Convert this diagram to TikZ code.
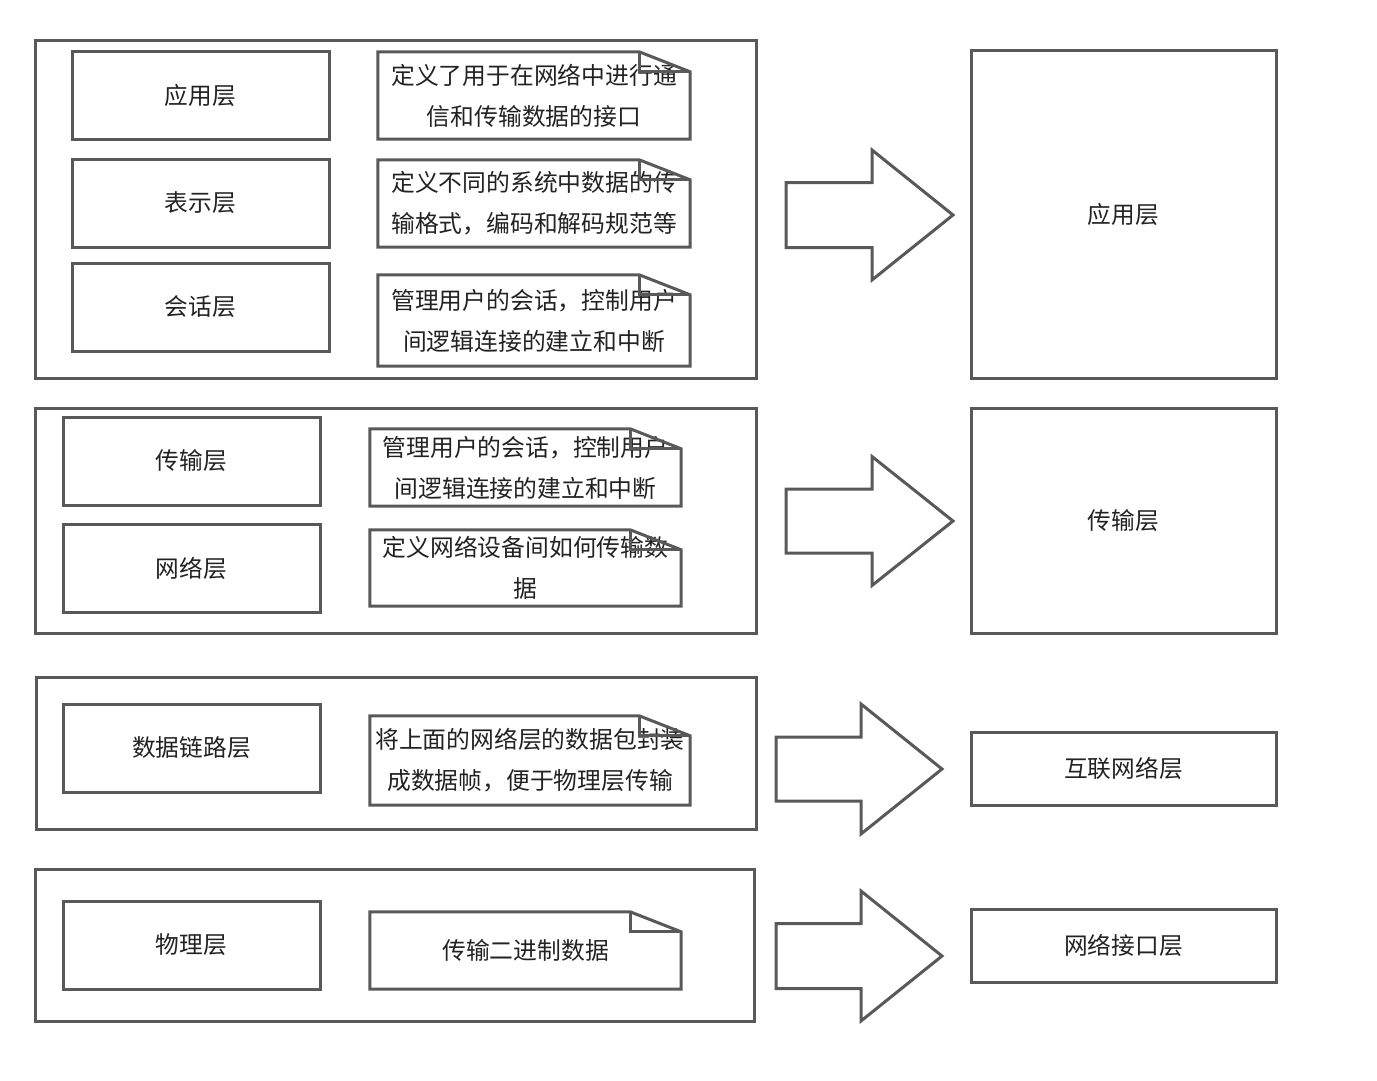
\documentclass[tikz,border=0pt]{standalone}
\usepackage{fontspec}
\newfontfamily\cjk{Noto Sans CJK SC}
\definecolor{linec}{HTML}{595959}
\definecolor{txtc}{HTML}{222222}
\tikzset{
  ln/.style={draw=linec, line width=3pt},
  box/.style={ln, inner sep=0pt, align=center, text=txtc, font=\cjk\fontsize{23.7}{41}\selectfont},
  notetext/.style={inner sep=0pt, align=center, text=txtc, font=\cjk\fontsize{23.8}{41}\selectfont},
  bigarrow/.style={ln, line join=miter},
}
\newcommand{\mybox}[6]{\node[box, minimum width={(#4-#2)*1pt}, minimum height={(#5-#3)*1pt}] (#1) at ({(#2+#4)/2},{(#3+#5)/2}) {#6};}
\newcommand{\mynote}[6]{%
  \node[notetext, minimum width={(#4-#2)*1pt}, minimum height={(#5-#3)*1pt}] (#1) at ({(#2+#4)/2},{(#3+#5)/2}) {#6};
  \draw[ln] (#1.north west) -- ([xshift=-51pt]#1.north east) -- ([yshift=-20pt]#1.north east) -- (#1.south east) -- (#1.south west) -- cycle;
  \draw[ln] ([xshift=-51pt]#1.north east) -- ([xshift=-51pt,yshift=-20pt]#1.north east) -- ([yshift=-20pt]#1.north east);}
\newcommand{\myarrow}[6]{%
  \draw[bigarrow] (#1,{#4-#5}) -- (#2,{#4-#5}) -- (#2,{#4-#6}) -- (#3,#4) -- (#2,{#4+#6}) -- (#2,{#4+#5}) -- (#1,{#4+#5}) -- cycle;}
\begin{document}
\begin{tikzpicture}[x=1pt,y=-1pt]
\useasboundingbox (0,0) rectangle (1377,1080);
% group outlines
\mybox{g1}{35}{40}{756}{378}{}
\mybox{g2}{35}{408}{756}{633}{}
\mybox{g3}{36}{677}{756}{829}{}
\mybox{g4}{35}{869}{754}{1021}{}
% left boxes
\mybox{app}{72}{51}{329}{139}{应用层}
\mybox{pres}{72}{159}{329}{247}{表示层}
\mybox{sess}{72}{263}{329}{351}{会话层}
\mybox{trans}{63}{417}{320}{505}{传输层}
\mybox{net}{63}{524}{320}{612}{网络层}
\mybox{link}{63}{704}{320}{792}{数据链路层}
\mybox{phys}{63}{901}{320}{989}{物理层}
% notes
\mynote{n1}{378}{52}{690}{139}{定义了用于在网络中进行通\\信和传输数据的接口}
\mynote{n2}{378}{160}{690}{247}{定义不同的系统中数据的传\\输格式，编码和解码规范等}
\mynote{n3}{378}{275}{690}{366}{管理用户的会话，控制用户\\间逻辑连接的建立和中断}
\mynote{n4}{370}{429}{681}{506}{管理用户的会话，控制用户\\间逻辑连接的建立和中断}
\mynote{n5}{370}{530}{681}{606}{定义网络设备间如何传输数\\据}
\mynote{n6}{370}{716}{690}{805}{将上面的网络层的数据包封装\\成数据帧，便于物理层传输}
\mynote{n7}{370}{912}{681}{989}{传输二进制数据}
% arrows
\myarrow{786}{872}{953}{215}{32.5}{65}
\myarrow{786}{872}{953}{521}{32}{64.5}
\myarrow{776}{861}{942}{769}{32}{65}
\myarrow{776}{861}{942}{956}{32.5}{65}
% right boxes
\mybox{r1}{971}{50}{1276}{378}{应用层}
\mybox{r2}{971}{408}{1276}{633}{传输层}
\mybox{r3}{971}{732}{1276}{805}{互联网络层}
\mybox{r4}{971}{909}{1276}{982}{网络接口层}
\end{tikzpicture}
\end{document}
